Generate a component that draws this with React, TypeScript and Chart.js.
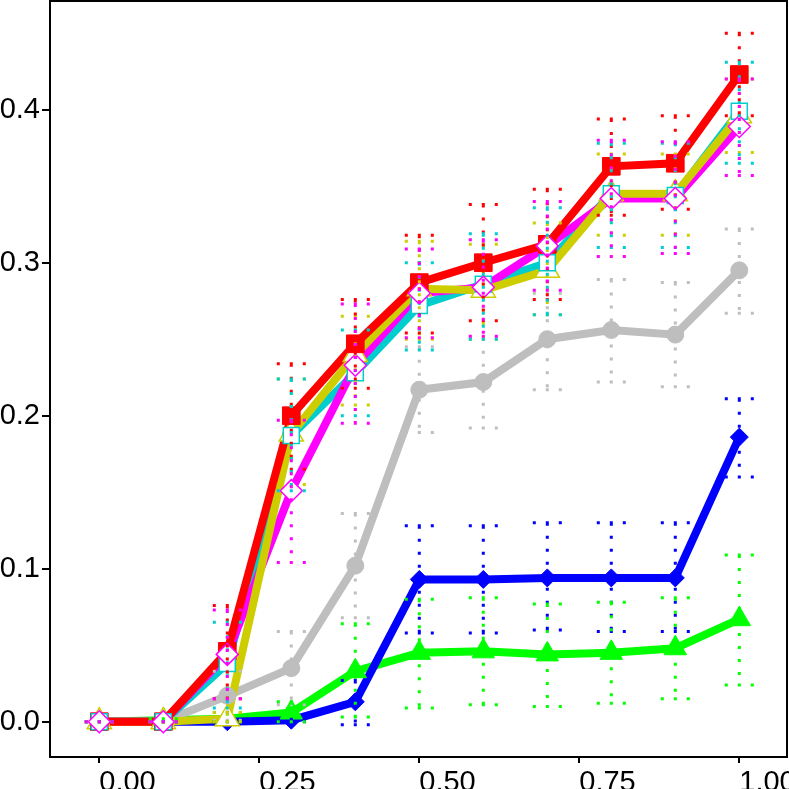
import { useEffect, useRef } from "react";
import { Chart, registerables } from "chart.js";

Chart.register(...registerables);

const xValues = [0, 0.1, 0.2, 0.3, 0.4, 0.5, 0.6, 0.7, 0.8, 0.9, 1.0];
const xTicks = [0, 0.25, 0.5, 0.75, 1.0];
const yTicks = [0, 0.1, 0.2, 0.3, 0.4];

const redVals = [0, 0, 0.046, 0.2, 0.247, 0.287, 0.3, 0.312, 0.363, 0.365, 0.423];
const redLo = [0, 0, 0.015, 0.165, 0.218, 0.254, 0.262, 0.276, 0.331, 0.335, 0.396];
const redHi = [0, 0, 0.076, 0.234, 0.276, 0.318, 0.338, 0.348, 0.394, 0.396, 0.45];

const cyanVals = [0, 0, 0.038, 0.187, 0.228, 0.272, 0.286, 0.3, 0.345, 0.344, 0.399];
const cyanLo = [0, 0, 0.009, 0.151, 0.2, 0.243, 0.25, 0.266, 0.31, 0.31, 0.365];
const cyanHi = [0, 0, 0.065, 0.224, 0.256, 0.3, 0.319, 0.336, 0.378, 0.378, 0.431];

const yellowVals = [0, 0, 0.002, 0.188, 0.24, 0.283, 0.282, 0.295, 0.345, 0.345, 0.396];
const yellowLo = [0, 0, 0, 0.155, 0.207, 0.25, 0.25, 0.266, 0.318, 0.318, 0.372];
const yellowHi = [0, 0, 0.006, 0.224, 0.265, 0.314, 0.312, 0.326, 0.371, 0.371, 0.42];

const magentaVals = [0, 0, 0.044, 0.151, 0.233, 0.28, 0.284, 0.311, 0.342, 0.342, 0.389];
const magentaLo = [0, 0, 0.015, 0.104, 0.195, 0.251, 0.252, 0.282, 0.304, 0.306, 0.357];
const magentaHi = [0, 0, 0.073, 0.197, 0.273, 0.309, 0.315, 0.34, 0.38, 0.379, 0.42];

const grayVals = [0, 0, 0.017, 0.035, 0.102, 0.217, 0.222, 0.25, 0.256, 0.253, 0.295];
const grayLo = [0, 0, 0.001, 0.011, 0.068, 0.189, 0.192, 0.217, 0.222, 0.219, 0.267];
const grayHi = [0, 0, 0.033, 0.059, 0.136, 0.245, 0.251, 0.28, 0.289, 0.287, 0.322];

const blueVals = [0, 0, 0, 0.001, 0.013, 0.093, 0.093, 0.094, 0.094, 0.094, 0.186];
const blueLo = [0, 0, 0, 0, -0.002, 0.058, 0.058, 0.06, 0.059, 0.059, 0.16];
const blueHi = [0, 0, 0, 0.002, 0.027, 0.128, 0.128, 0.13, 0.13, 0.13, 0.211];

const greenVals = [0, 0.001, 0.002, 0.006, 0.033, 0.045, 0.046, 0.044, 0.045, 0.048, 0.067];
const greenLo = [0, 0, 0, 0, 0.003, 0.009, 0.011, 0.01, 0.012, 0.015, 0.024];
const greenHi = [0, 0.002, 0.006, 0.013, 0.064, 0.08, 0.081, 0.077, 0.078, 0.081, 0.109];

type Series = {
  color: string;
  vals: number[];
  lo: number[];
  hi: number[];
  pointStyle: string;
  radius: number;
  fill: string;
  borderWidth: number;
};

const series: Record<string, Series> = {
  red: { color: "#FF0000", vals: redVals, lo: redLo, hi: redHi, pointStyle: "rect", radius: 12.5, fill: "#FF0000", borderWidth: 1 },
  cyan: { color: "#00CDCD", vals: cyanVals, lo: cyanLo, hi: cyanHi, pointStyle: "rect", radius: 11.3, fill: "#FFFFFF", borderWidth: 1.5 },
  yellow: { color: "#CDCD00", vals: yellowVals, lo: yellowLo, hi: yellowHi, pointStyle: "triangle", radius: 14, fill: "#FFFFFF", borderWidth: 1.5 },
  magenta: { color: "#FF00FF", vals: magentaVals, lo: magentaLo, hi: magentaHi, pointStyle: "rectRot", radius: 11, fill: "#FFFFFF", borderWidth: 1.5 },
  gray: { color: "#BEBEBE", vals: grayVals, lo: grayLo, hi: grayHi, pointStyle: "circle", radius: 8.5, fill: "#BEBEBE", borderWidth: 1 },
  blue: { color: "#0000FF", vals: blueVals, lo: blueLo, hi: blueHi, pointStyle: "rectRot", radius: 9, fill: "#0000FF", borderWidth: 1 },
  green: { color: "#00FF00", vals: greenVals, lo: greenLo, hi: greenHi, pointStyle: "triangle", radius: 13, fill: "#00FF00", borderWidth: 1 },
};

// bottom-to-top drawing order
const lineOrder = ["green", "blue", "gray", "cyan", "magenta", "yellow", "red"];
const pointOrder = ["blue", "gray", "green", "yellow", "red", "cyan", "magenta"];

const toXY = (vals: number[]) => vals.map((v, i) => ({ x: xValues[i], y: v }));

const errorBars = {
  id: "errorBars",
  afterDatasetsDraw(chart: any) {
    const { ctx, scales } = chart;
    const x = scales.x;
    const y = scales.y;
    ctx.save();
    ctx.lineWidth = 3;
    ctx.lineCap = "butt";
    ctx.setLineDash([3, 10]);
    pointOrder.forEach((k) => {
      const s = series[k];
      ctx.strokeStyle = s.color;
      xValues.forEach((xv, i) => {
        const px = x.getPixelForValue(xv);
        const top = y.getPixelForValue(s.hi[i]);
        const bot = y.getPixelForValue(s.lo[i]);
        ctx.beginPath();
        ctx.moveTo(px - 14.5, top);
        ctx.lineTo(px + 14.5, top);
        ctx.moveTo(px - 14.5, bot);
        ctx.lineTo(px + 14.5, bot);
        ctx.moveTo(px, top);
        ctx.lineTo(px, bot);
        ctx.stroke();
      });
    });
    ctx.restore();
  },
  afterDraw(chart: any) {
    const { ctx, chartArea } = chart;
    ctx.save();
    ctx.strokeStyle = "#000";
    ctx.lineWidth = 2;
    ctx.strokeRect(chartArea.left, chartArea.top, chartArea.right - chartArea.left, chartArea.bottom - chartArea.top);
    ctx.restore();
  },
};

const App = () => {
  const canvasRef = useRef<HTMLCanvasElement>(null);

  useEffect(() => {
    if (!canvasRef.current) return;
    Chart.defaults.font.family = '"Liberation Sans", Arial, sans-serif';

    const lineSets = lineOrder.map((k, i) => ({
      label: k + " line",
      data: toXY(series[k].vals),
      borderColor: series[k].color,
      borderWidth: 8,
      pointRadius: 0,
      showLine: true,
      fill: false,
      order: 100 - i,
    }));
    const pointSets = pointOrder.map((k, i) => ({
      label: k + " points",
      data: toXY(series[k].vals),
      showLine: false,
      pointStyle: series[k].pointStyle,
      pointRadius: series[k].radius,
      pointBackgroundColor: series[k].fill,
      pointBorderColor: series[k].color,
      pointBorderWidth: series[k].borderWidth,
      order: 50 - i,
    }));

    const chart = new Chart(canvasRef.current, {
      type: "scatter",
      data: { datasets: [...lineSets, ...pointSets] as any },
      plugins: [errorBars],
      options: {
        animation: false,
        responsive: false,
        devicePixelRatio: 1,
        layout: { autoPadding: false, padding: { top: 1, right: 63, bottom: 0, left: 0 } },
        plugins: { legend: { display: false }, tooltip: { enabled: false } },
        scales: {
          x: {
            type: "linear",
            min: -0.07703,
            max: 1.07453,
            afterBuildTicks: (s: any) => {
              s.ticks = xTicks.map((v) => ({ value: v }));
            },
            afterFit: (s: any) => {
              s.height = 43;
              s.paddingLeft = 0;
              s.paddingRight = 0;
            },
            grid: { drawOnChartArea: false, drawTicks: true, tickLength: 6, color: "#000", lineWidth: 2 },
            border: { display: true, color: "#000", width: 2 },
            ticks: {
              align: "start",
              autoSkip: false,
              maxRotation: 0,
              minRotation: 0,
              padding: 3,
              color: "#000",
              font: { size: 29 },
              callback: (v: any) => Number(v).toFixed(2),
            },
          },
          y: {
            type: "linear",
            min: -0.02307,
            max: 0.47105,
            afterBuildTicks: (s: any) => {
              s.ticks = yTicks.map((v) => ({ value: v }));
            },
            afterFit: (s: any) => {
              s.width = 50;
              s.paddingTop = 0;
              s.paddingBottom = 0;
            },
            grid: { drawOnChartArea: false, drawTicks: true, tickLength: 8, color: "#000", lineWidth: 2 },
            border: { display: true, color: "#000", width: 2 },
            ticks: {
              padding: 2,
              color: "#000",
              font: { size: 29 },
              callback: (v: any) => Number(v).toFixed(1),
            },
          },
        },
      },
    });

    return () => chart.destroy();
  }, []);

  return (
    <div
      style={{ position: "fixed", left: 0, top: 0, width: 789, height: 789, overflow: "hidden", background: "#fff" }}
    >
      <canvas ref={canvasRef} width={850} height={800} style={{ display: "block" }}></canvas>
    </div>
  );
};

export default App;
